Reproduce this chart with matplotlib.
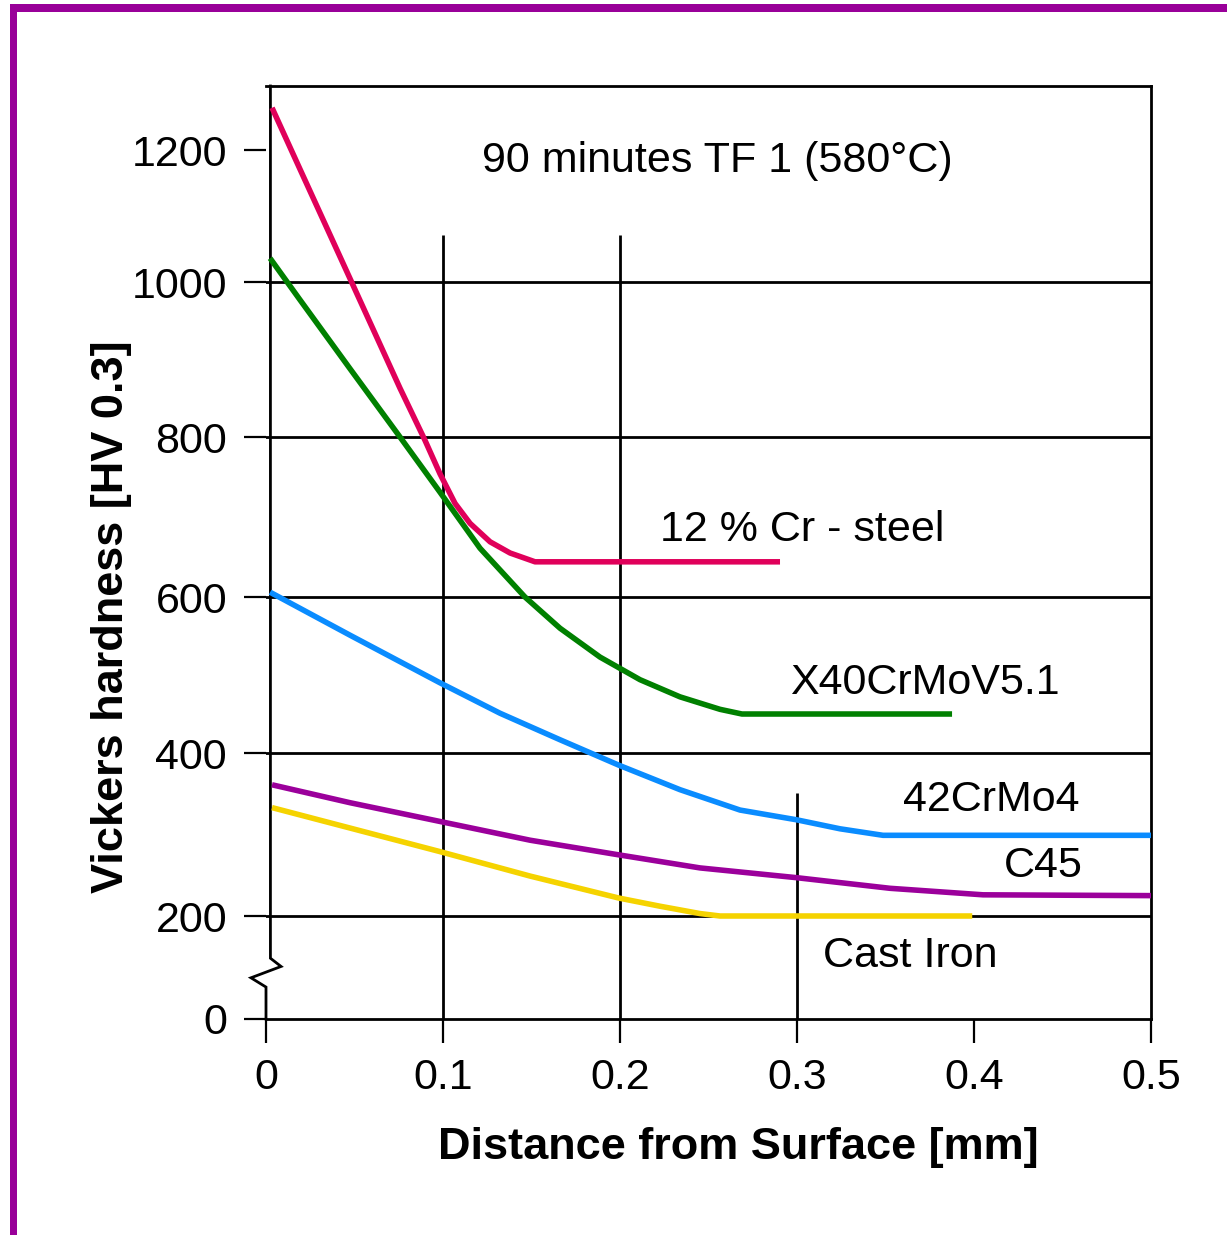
import matplotlib
matplotlib.use('Agg')
import matplotlib.pyplot as plt
from matplotlib.patches import Rectangle
import numpy as np

# hardness profiles (distance in mm, HV 0.3)
dist_cr = [0.0034, 0.0192, 0.0475, 0.0757, 0.0898, 0.0983, 0.1068, 0.1153, 0.1266, 0.1379, 0.152, 0.2904]
hv_cr = [1264, 1171, 1005, 863, 796, 754, 717, 692, 669, 655, 644, 644]

dist_x40 = [0.0023, 0.0192, 0.0475, 0.0757, 0.0983, 0.1209, 0.1463, 0.1661, 0.1887,
            0.2113, 0.2339, 0.2565, 0.2689, 0.3876]
hv_x40 = [1036, 977, 888, 800, 731, 661, 600, 560, 523, 494, 472, 456, 450, 450]

dist_42 = [0.0023, 0.0475, 0.0983, 0.1322, 0.1661, 0.1994, 0.2339, 0.2678, 0.2999, 0.3243, 0.3486, 0.5]
hv_42 = [606, 551, 490, 451, 417, 385, 355, 330, 318, 307, 299, 299]

dist_c45 = [0.0034, 0.0475, 0.0983, 0.1492, 0.1994, 0.2452, 0.2999, 0.3525, 0.4051, 0.5]
hv_c45 = [361, 339, 316, 293, 275, 259, 247, 234, 226, 225]

dist_ci = [0.0034, 0.0983, 0.1492, 0.1994, 0.2226, 0.2452, 0.2565, 0.399]
hv_ci = [333, 279, 249, 222, 212, 203, 200, 200]

xticks = [0, 0.1, 0.2, 0.3, 0.4, 0.5]
xticklabels = ['0', '0.1', '0.2', '0.3', '0.4', '0.5']
yticks = [0, 200, 400, 600, 800, 1000, 1200]

# the original y axis is hand drawn (broken below 200, uneven spacing)
knot_v = [0, 200, 400, 600, 800, 1000, 1200, 1300]
knot_p = [0, 103, 266, 422, 582, 737, 869, 935]

def fwd(v):
    return np.interp(v, knot_v, knot_p)

def inv(p):
    return np.interp(p, knot_p, knot_v)

fam = ['Liberation Sans', 'DejaVu Sans']

fig = plt.figure(figsize=(12.27, 12.35), dpi=100)
W, H = 1227, 1235

# purple frame (top and left edges visible)
fig.patches.append(Rectangle((10 / W, 0), 7 / W, 1 - 4 / H, transform=fig.transFigure,
                             color='#990099', lw=0))
fig.patches.append(Rectangle((10 / W, 1 - 12 / H), 1, 8 / H, transform=fig.transFigure,
                             color='#990099', lw=0))

ax = fig.add_axes([266 / W, 1 - 1019 / H, (1151 - 266) / W, (1019 - 86) / H])
ax.set_yscale('function', functions=(fwd, inv))
ax.set_xlim(0, 0.5)
ax.set_ylim(0, 1297)

lw_grid = 2.0
for s in ['top', 'right', 'bottom']:
    ax.spines[s].set_linewidth(lw_grid)
ax.spines['left'].set_visible(False)

# left axis with break
ax.plot([0, 0, -0.0085, 0.0085, 0.0025, 0.0025], [0, 62, 80, 102, 118, 1297],
        color='black', lw=lw_grid, clip_on=False, zorder=3, solid_joinstyle='miter')

for v in [200, 400, 600, 800, 1000]:
    ax.axhline(v, color='black', lw=lw_grid, zorder=1)
ax.vlines([0.1, 0.2], 0, 1071, color='black', lw=lw_grid, zorder=1)
ax.vlines([0.3], 0, 351, color='black', lw=lw_grid, zorder=1)

lw = 4.0
ax.plot(dist_cr, hv_cr, color='#e0005a', lw=lw, zorder=4, solid_capstyle='butt')
ax.plot(dist_x40, hv_x40, color='#008000', lw=lw, zorder=4, solid_capstyle='butt')
ax.plot(dist_42, hv_42, color='#0a8cff', lw=lw, zorder=4, solid_capstyle='butt')
ax.plot(dist_c45, hv_c45, color='#9b009b', lw=lw, zorder=4, solid_capstyle='butt')
ax.plot(dist_ci, hv_ci, color='#f5d300', lw=lw, zorder=4, solid_capstyle='butt')

ax.set_xticks(xticks)
ax.set_xticklabels(xticklabels, family=fam, fontsize=31)
ax.set_yticks(yticks)
ax.set_yticklabels([str(v) for v in yticks], family=fam, fontsize=31)
ax.yaxis.set_minor_locator(plt.NullLocator())
ax.tick_params(axis='y', direction='out', length=16, width=1.6, pad=12)
ax.tick_params(axis='x', direction='out', length=17, width=1.6, pad=11)

tk = dict(family=fam, fontsize=31, ha='center', va='center', zorder=5)
ax.text(0.255, 1183, '90 minutes TF 1 (580°C)', **tk)
ax.text(0.303, 684, '12 % Cr - steel', **tk)
ax.text(0.372, 490, 'X40CrMoV5.1', **tk)
ax.text(0.41, 342, '42CrMo4', **tk)
ax.text(0.439, 261, 'C45', **tk)
ax.text(0.364, 122, 'Cast Iron', **tk)

fig.text(738 / W, 1 - 1148 / H, 'Distance from Surface [mm]', family=fam,
         fontsize=32.5, fontweight='bold', ha='center', va='center')
fig.text(111 / W, 1 - 617 / H, 'Vickers hardness [HV 0.3]', family=fam,
         fontsize=32.5, fontweight='bold', ha='center', va='center', rotation=90)

fig.savefig('out.png', dpi=100)
